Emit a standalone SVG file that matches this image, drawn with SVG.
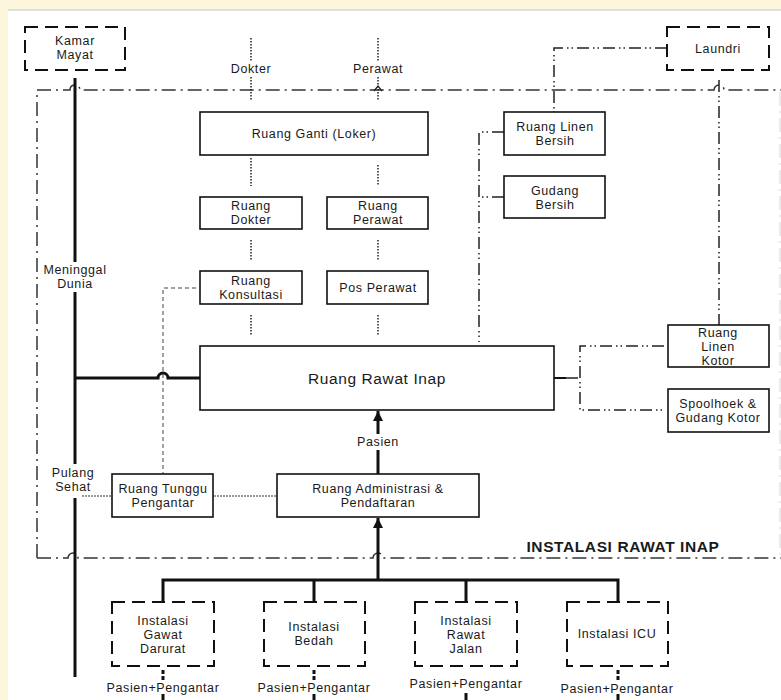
<svg xmlns="http://www.w3.org/2000/svg" width="781" height="700" viewBox="0 0 781 700">
  <style>
    text { font-family: "Liberation Sans", Arial, sans-serif; font-size: 12.5px; letter-spacing: 0.6px; fill: #1a1a1a; text-anchor: middle; }
    .big { font-size: 15.5px; }
    .title { font-size: 15.5px; font-weight: bold; }
    .box { fill: #fff; stroke: #111; stroke-width: 1.6; }
    .dbox { fill: #fff; stroke: #111; stroke-width: 2; stroke-dasharray: 13 7; }
    .thick { fill: none; stroke: #111; stroke-width: 3; }
    .frame { fill: none; stroke: #333; stroke-width: 1.5; stroke-dasharray: 14 5 2 5; }
    .ddot { fill: none; stroke: #222; stroke-width: 1.5; stroke-dasharray: 12 4 1.5 3 1.5 4; }
    .dot { fill: none; stroke: #222; stroke-width: 1.5; stroke-dasharray: 1.5 1.5; }
    .dash { fill: none; stroke: #444; stroke-width: 1; stroke-dasharray: 4 3; }
    .fine { fill: none; stroke: #333; stroke-width: 1; stroke-dasharray: 2 1; }
    .mask { fill: #fff; }
  </style>
  <defs>
    <marker id="head" viewBox="0 0 10 10" refX="10" refY="5" markerWidth="3.4" markerHeight="3.4" orient="auto" markerUnits="strokeWidth">
      <path d="M0,0 L10,5 L0,10 Z" fill="#111"/>
    </marker>
  </defs>

  <!-- page -->
  <rect width="781" height="700" fill="#fcf6dc"/>
  <rect x="8" y="10" width="773" height="690" fill="#fff"/>
  <line x1="8" y1="10" x2="781" y2="10" stroke="#c4c4c4" stroke-width="1"/>

  <g id="connectors">
    <!-- installation boundary -->
    <path class="frame" d="M37,558 V90 H70 a5,5 0 0 1 10,0 H714 a5,5 0 0 1 10,0 H781"/>
    <path class="frame" d="M37,558 H68 a5,5 0 0 1 10,0 H373 a5,5 0 0 1 10,0 H781"/>
    <line x1="780" y1="92" x2="780" y2="556" stroke="#d6d6d6" stroke-width="1" stroke-dasharray="14 5 2 5"/>

    <!-- exit route: mortuary / discharge -->
    <line class="thick" x1="75" y1="78" x2="75" y2="677"/>
    <path class="thick" d="M75,378 H158 a5,5 0 0 1 10,0 H200"/>
    <rect class="mask" x="42" y="262" width="66" height="30"/>
    <rect class="mask" x="50" y="464" width="50" height="34"/>

    <!-- staff routes -->
    <line class="dot" x1="251" y1="38" x2="251" y2="100"/>
    <line class="dot" x1="378" y1="38" x2="378" y2="100"/>
    <rect class="mask" x="225" y="61" width="52" height="15"/>
    <rect class="mask" x="348" y="61" width="60" height="15"/>
    <path d="M374,91 L378,86 L382,91" fill="none" stroke="#222" stroke-width="1.3"/>
    <line class="dot" x1="251" y1="158" x2="251" y2="186"/>
    <line class="dot" x1="378" y1="165" x2="378" y2="186"/>
    <line class="dot" x1="251" y1="240" x2="251" y2="261"/>
    <line class="dot" x1="378" y1="240" x2="378" y2="261"/>
    <line class="dot" x1="251" y1="315" x2="251" y2="335"/>
    <line class="dot" x1="378" y1="315" x2="378" y2="335"/>

    <!-- consultation to waiting room -->
    <path class="dash" d="M196,288 H163 V474"/>
    <line class="fine" x1="82" y1="496" x2="112" y2="496"/>
    <line class="fine" x1="214" y1="496" x2="277" y2="496"/>

    <!-- patient flow -->
    <line class="thick" x1="378" y1="474" x2="378" y2="411" marker-end="url(#head)"/>
    <rect class="mask" x="352" y="434" width="52" height="16"/>
    <line class="thick" x1="378" y1="580" x2="378" y2="518" marker-end="url(#head)"/>
    <path class="thick" d="M163,602 V580 H618 V602"/>
    <line class="thick" x1="314" y1="580" x2="314" y2="602"/>
    <line class="thick" x1="466" y1="580" x2="466" y2="602"/>
    <line x1="163" y1="670" x2="163" y2="682" stroke="#111" stroke-width="3" stroke-dasharray="4 2"/>
    <line x1="314" y1="670" x2="314" y2="682" stroke="#111" stroke-width="3" stroke-dasharray="4 2"/>
    <line x1="618" y1="670" x2="618" y2="682" stroke="#111" stroke-width="3" stroke-dasharray="4 2"/>
    <line class="thick" x1="163" y1="694" x2="163" y2="700"/>
    <line class="thick" x1="314" y1="694" x2="314" y2="700"/>
    <line class="thick" x1="466" y1="693" x2="466" y2="700"/>
    <line class="thick" x1="618" y1="694" x2="618" y2="700"/>

    <!-- linen routes -->
    <path class="ddot" d="M667,48 H554 V112"/>
    <line class="ddot" x1="719" y1="80" x2="719" y2="325"/>
    <path class="ddot" d="M504,132 H479 V342"/>
    <line class="ddot" x1="504" y1="197" x2="479" y2="197"/>
    <line x1="554" y1="378" x2="566" y2="378" stroke="#111" stroke-width="2"/>
    <line class="ddot" x1="566" y1="378" x2="580" y2="378" stroke-dasharray="1.5 3"/>
    <path class="ddot" d="M664,346 H580 V410 H664"/>
  </g>

  <g id="kamar-mayat">
    <rect class="dbox" x="25" y="27" width="100" height="43"/>
    <text x="75" y="45">Kamar</text>
    <text x="75" y="59">Mayat</text>
  </g>
  <g id="laundri">
    <rect class="dbox" x="667" y="27" width="102" height="43"/>
    <text x="718" y="53">Laundri</text>
  </g>
  <g id="label-dokter"><text x="251" y="73">Dokter</text></g>
  <g id="label-perawat"><text x="378" y="73">Perawat</text></g>
  <g id="ruang-ganti">
    <rect class="box" x="200" y="112" width="228" height="43"/>
    <text x="314" y="138">Ruang Ganti (Loker)</text>
  </g>
  <g id="ruang-dokter">
    <rect class="box" x="200" y="197" width="102" height="32"/>
    <text x="251" y="210">Ruang</text>
    <text x="251" y="224">Dokter</text>
  </g>
  <g id="ruang-perawat">
    <rect class="box" x="327" y="197" width="101" height="32"/>
    <text x="378" y="210">Ruang</text>
    <text x="378" y="224">Perawat</text>
  </g>
  <g id="ruang-konsultasi">
    <rect class="box" x="200" y="271" width="102" height="33"/>
    <text x="251" y="285">Ruang</text>
    <text x="251" y="299">Konsultasi</text>
  </g>
  <g id="pos-perawat">
    <rect class="box" x="327" y="271" width="101" height="33"/>
    <text x="378" y="292">Pos Perawat</text>
  </g>
  <g id="ruang-rawat-inap">
    <rect class="box" x="200" y="346" width="354" height="64"/>
    <text class="big" x="377" y="384">Ruang Rawat Inap</text>
  </g>
  <g id="ruang-linen-bersih">
    <rect class="box" x="504" y="112" width="101" height="43"/>
    <text x="555" y="131">Ruang Linen</text>
    <text x="555" y="145">Bersih</text>
  </g>
  <g id="gudang-bersih">
    <rect class="box" x="504" y="176" width="101" height="42"/>
    <text x="555" y="195">Gudang</text>
    <text x="555" y="209">Bersih</text>
  </g>
  <g id="ruang-linen-kotor">
    <rect class="box" x="668" y="325" width="101" height="42"/>
    <text x="718" y="337">Ruang</text>
    <text x="718" y="351">Linen</text>
    <text x="718" y="365">Kotor</text>
  </g>
  <g id="spoolhoek">
    <rect class="box" x="668" y="389" width="101" height="43"/>
    <text x="718" y="408">Spoolhoek &amp;</text>
    <text x="718" y="422">Gudang Kotor</text>
  </g>
  <g id="label-meninggal">
    <text x="75" y="274">Meninggal</text>
    <text x="75" y="288">Dunia</text>
  </g>
  <g id="label-pulang">
    <text x="73" y="477">Pulang</text>
    <text x="73" y="491">Sehat</text>
  </g>
  <g id="ruang-tunggu">
    <rect class="box" x="112" y="474" width="101" height="43"/>
    <text x="163" y="493">Ruang Tunggu</text>
    <text x="163" y="507">Pengantar</text>
  </g>
  <g id="ruang-administrasi">
    <rect class="box" x="277" y="474" width="202" height="43"/>
    <text x="378" y="493">Ruang Administrasi &amp;</text>
    <text x="378" y="507">Pendaftaran</text>
  </g>
  <g id="label-pasien"><text x="378" y="446">Pasien</text></g>
  <g id="label-instalasi-rawat-inap">
    <text class="title" x="623" y="552">INSTALASI RAWAT INAP</text>
  </g>
  <g id="instalasi-gawat-darurat">
    <rect class="dbox" x="112" y="602" width="102" height="64"/>
    <text x="163" y="625">Instalasi</text>
    <text x="163" y="639">Gawat</text>
    <text x="163" y="653">Darurat</text>
  </g>
  <g id="instalasi-bedah">
    <rect class="dbox" x="264" y="602" width="101" height="64"/>
    <text x="314" y="631">Instalasi</text>
    <text x="314" y="645">Bedah</text>
  </g>
  <g id="instalasi-rawat-jalan">
    <rect class="dbox" x="415" y="602" width="102" height="64"/>
    <text x="466" y="625">Instalasi</text>
    <text x="466" y="639">Rawat</text>
    <text x="466" y="653">Jalan</text>
  </g>
  <g id="instalasi-icu">
    <rect class="dbox" x="567" y="602" width="101" height="64"/>
    <text x="617" y="638">Instalasi ICU</text>
  </g>
  <g id="labels-pengantar">
    <text x="163" y="692">Pasien+Pengantar</text>
    <text x="314" y="692">Pasien+Pengantar</text>
    <text x="466" y="688">Pasien+Pengantar</text>
    <text x="617" y="693">Pasien+Pengantar</text>
  </g>
</svg>
